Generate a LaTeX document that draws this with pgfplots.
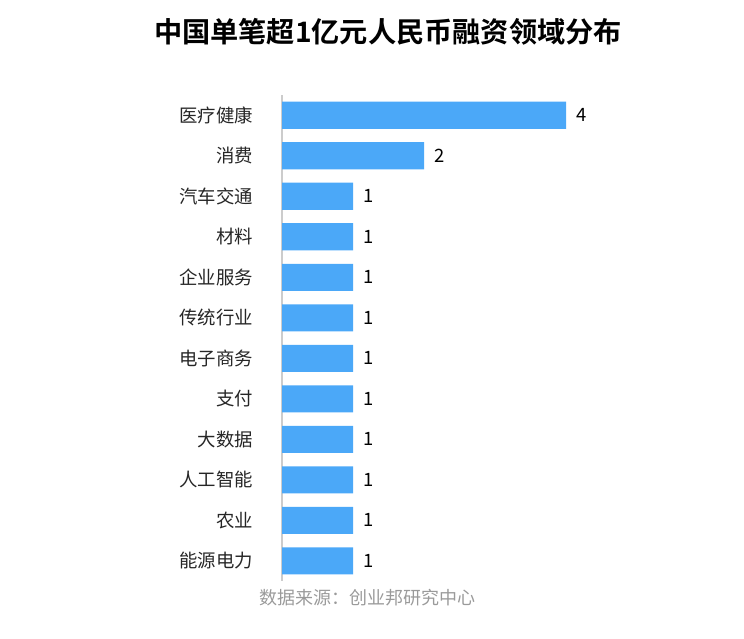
\documentclass[border=0pt]{standalone}
\usepackage{fontspec}
\setmainfont{Noto Sans CJK SC}
\newfontfamily\titlefont{Noto Sans CJK SC Bold}
\usepackage{pgfplots}
\pgfplotsset{compat=1.18}
\definecolor{BarBlue}{HTML}{4BA8F8}
\definecolor{SrcGray}{HTML}{9A9A9A}
\definecolor{AxisGray}{HTML}{CCCCCC}

\begin{document}
\begin{tikzpicture}
\path[use as bounding box] (0pt,0pt) rectangle (372pt,319pt);
\begin{axis}[
    at={(141pt,28.5pt)}, anchor=south west,
    scale only axis,
    width=142pt, height=243pt,
    xbar, bar width=0.667,
    xmin=0, xmax=4,
    ymin=-0.5, ymax=11.5,
    y dir=reverse,
    axis x line=none,
    axis y line*=left,
    axis line style={AxisGray, line width=0.6pt, -},
    ytick={0,...,11},
    yticklabels={医疗健康,消费,汽车交通,材料,企业服务,传统行业,电子商务,支付,大数据,人工智能,农业,能源电力},
    major tick length=0pt,
    yticklabel style={font=\fontsize{9.2}{11}\selectfont, text=black!85, xshift=-11pt},
    nodes near coords,
    nodes near coords style={font=\fontsize{9.2}{11}\selectfont, text=black, xshift=1.5pt,
        /pgf/number format/assume math mode=true},
    /pgf/number format/assume math mode=true,
    clip=false,
]
\addplot[fill=BarBlue, draw=none] coordinates {
    (4,0) (2,1) (1,2) (1,3) (1,4) (1,5) (1,6) (1,7) (1,8) (1,9) (1,10) (1,11)
};
\end{axis}
\node[font=\titlefont\fontsize{14.1}{17}\selectfont] at (194pt,303pt) {中国单笔超1亿元人民币融资领域分布};
\node[font=\fontsize{9}{11}\selectfont, text=SrcGray] at (183.5pt,20pt) {数据来源：创业邦研究中心};
\end{tikzpicture}
\end{document}
